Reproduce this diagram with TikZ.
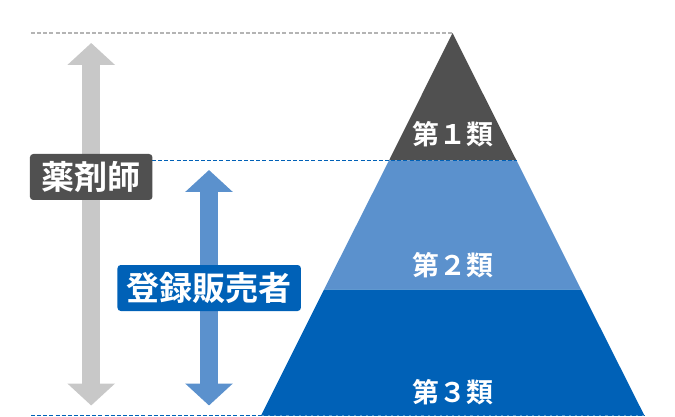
\documentclass[tikz,border=0pt]{standalone}
\usepackage{fontspec}
\setmainfont{Noto Sans CJK JP}[BoldFont={Noto Sans CJK JP Bold}]
\usetikzlibrary{arrows.meta}
\definecolor{darkgrey}{RGB}{80,80,80}
\definecolor{midblue}{RGB}{91,145,205}
\definecolor{deepblue}{RGB}{0,97,183}
\definecolor{lightgrey}{RGB}{200,200,200}
\definecolor{guidegrey}{RGB}{180,180,180}
\tikzset{
  guide/.style={line width=1pt,dash pattern=on 3pt off 1.6pt},
  span/.style={line width=13.9pt,{Triangle[length=16.5pt,width=34.8pt]}-{Triangle[length=16.5pt,width=34.8pt]}},
  tier/.style={text=white,font=\bfseries\fontsize{20.2}{20.2}\selectfont,inner sep=0pt},
  tag/.style={text=white,font=\bfseries\fontsize{24.8}{24.8}\selectfont,rounded corners=2.5pt,anchor=center,inner sep=0pt},
}
\begin{document}
\begin{tikzpicture}[x=0.75pt,y=0.75pt,yscale=-1,xscale=1]
\useasboundingbox (0,0) rectangle (675,417);

%pyramid
\fill[darkgrey] (452.5,33) -- (516.5,160.5) -- (389,160.5) -- cycle;
\fill[midblue] (389,160.5) -- (516.5,160.5) -- (581,289.5) -- (324,289.5) -- cycle;
\fill[deepblue] (324,289.5) -- (581,289.5) -- (644.5,415.7) -- (261,415.7) -- cycle;

%ends of the guide lines
\coordinate (apex) at (452.5,33);
\coordinate (guidetop) at (31,33);
\coordinate (guidemid) at (152,160.5);
\coordinate (midright) at (516.5,160.5);
\coordinate (guidelow) at (31,415.7);
\coordinate (lowright) at (644.5,415.7);

%guide lines
\draw[guide,guidegrey] (guidetop) -- (apex);
\draw[guide,deepblue] (guidemid) -- (midright);
\draw[guide,deepblue] (guidelow) -- (lowright);

%ends of the arrows
\coordinate (greytop) at (91.2,43);
\coordinate (greylow) at (91.2,405.5);
\coordinate (bluetop) at (209,170);
\coordinate (bluelow) at (209,405.5);

%arrows
\draw[span,lightgrey] (greytop) -- (greylow);
\draw[span,midblue] (bluetop) -- (bluelow);

%labels
\node[tag,fill=darkgrey,minimum width=91.9pt,minimum height=34.5pt] (pharmacist) at (91.2,177) {薬剤師};
\node[tag,fill=deepblue,minimum width=137.6pt,minimum height=34.5pt] (seller) at (209.2,288) {登録販売者};

\node[tier] (first) at (452.8,134) {第１類};
\node[tier] (second) at (452.8,265) {第２類};
\node[tier] (third) at (452.8,392) {第３類};
\end{tikzpicture}
\end{document}
